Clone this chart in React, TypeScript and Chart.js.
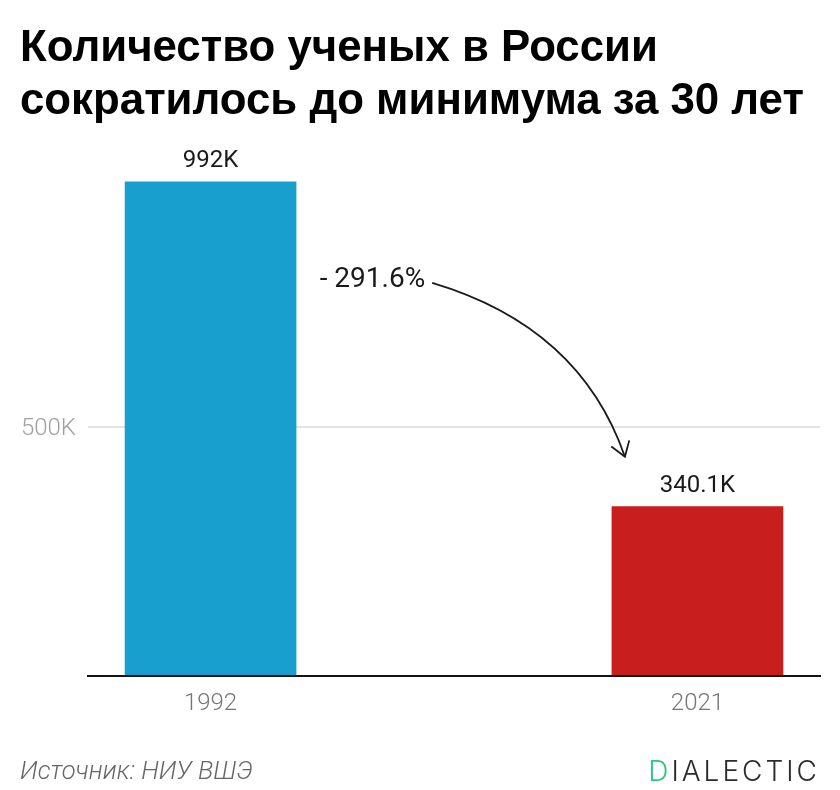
import { useEffect, useRef } from 'react';
import { Chart } from 'chart.js/auto';

const years = [1992, 2021];
const values = [992, 340.1];
const valueLabels = ['992K', '340.1K'];
const barColors = ['#189fcd', '#c81e1e'];
const xRange = [1984.7, 2028.3];
const yTicks = [0, 500];
const yMax = 1100;

// arrow from the "- 291.6%" label down to the 2021 bar, in data units
const arrowX = [2005.2, 2014.0, 2016.68];
const arrowY = [789, 701, 440];
const changeLabel = '- 291.6%';

const font = 'Roboto, sans-serif';

const overlayPlugin = {
  id: 'overlay',
  afterDraw(chart: Chart) {
    const { ctx, scales } = chart;
    const meta = chart.getDatasetMeta(0);

    ctx.save();
    ctx.fillStyle = '#1a1a1a';
    ctx.font = `24px ${font}`;
    ctx.textAlign = 'center';
    ctx.textBaseline = 'alphabetic';
    meta.data.forEach((bar, i) => {
      ctx.fillText(valueLabels[i], bar.x, bar.y - 15);
    });

    const px = arrowX.map((v) => scales.x.getPixelForValue(v));
    const py = arrowY.map((v) => scales.y.getPixelForValue(v));

    ctx.textAlign = 'right';
    ctx.font = `28px ${font}`;
    ctx.fillText(changeLabel, px[0] - 7, py[0] + 4);

    ctx.strokeStyle = '#1a1a1a';
    ctx.lineWidth = 1.8;
    ctx.beginPath();
    ctx.moveTo(px[0], py[0]);
    ctx.quadraticCurveTo(px[1], py[1], px[2], py[2]);
    ctx.stroke();

    // arrow head
    const a = Math.atan2(py[2] - py[1], px[2] - px[1]);
    const len = 17;
    ctx.beginPath();
    ctx.moveTo(px[2] + len * Math.cos(a + 2.55), py[2] + len * Math.sin(a + 2.55));
    ctx.lineTo(px[2], py[2]);
    ctx.lineTo(px[2] + len * Math.cos(a - 2.55), py[2] + len * Math.sin(a - 2.55));
    ctx.stroke();
    ctx.restore();
  },
};

export default function App() {
  const canvasRef = useRef<HTMLCanvasElement>(null);

  useEffect(() => {
    if (!canvasRef.current) return;
    const chart = new Chart(canvasRef.current, {
      type: 'bar',
      data: {
        datasets: [
          {
            data: years.map((y, i) => ({ x: y, y: values[i] })),
            backgroundColor: barColors,
            barThickness: 171,
          },
        ],
      },
      options: {
        animation: false,
        responsive: false,
        layout: { padding: { top: 128, right: 20, left: 0, bottom: 0 } },
        plugins: {
          legend: { display: false },
          tooltip: { enabled: false },
        },
        scales: {
          x: {
            type: 'linear',
            offset: false,
            min: xRange[0],
            max: xRange[1],
            afterBuildTicks: (axis) => {
              axis.ticks = years.map((value) => ({ value }));
            },
            afterFit: (axis) => {
              axis.height = 114;
            },
            grid: { display: false },
            border: { color: '#151515', width: 2, z: 1 },
            ticks: {
              color: '#757575',
              padding: 6,
              maxRotation: 0,
              font: { family: font, size: 24, weight: 300 },
              callback: (v) => String(v),
            },
          },
          y: {
            min: 0,
            max: yMax,
            afterBuildTicks: (axis) => {
              axis.ticks = yTicks.map((value) => ({ value }));
            },
            afterFit: (axis) => {
              axis.width = 88;
            },
            grid: {
              color: (c) => (c.tick.value === 0 ? 'rgba(0,0,0,0)' : '#e3e3e3'),
              lineWidth: 2,
              drawTicks: false,
            },
            border: { display: false },
            ticks: {
              color: '#a0a0a0',
              padding: 12,
              labelOffset: 2,
              font: { family: font, size: 24, weight: 300 },
              callback: (v) => (v === 0 ? '' : `${v}K`),
            },
          },
        },
      },
      plugins: [overlayPlugin],
    });
    return () => chart.destroy();
  }, []);

  return (
    <div style={{ position: 'absolute', left: 0, top: 0, width: 840, height: 790, background: '#fff', overflow: 'hidden' }}>
      <canvas ref={canvasRef} width={840} height={790} style={{ position: 'absolute', left: 0, top: 0 }} />
      <div
        style={{
          position: 'absolute',
          left: 20,
          top: 19,
          width: 820,
          fontFamily: '"Liberation Sans", Arial, sans-serif',
          fontWeight: 700,
          fontSize: 43.8,
          lineHeight: '53px',
          color: '#000',
          whiteSpace: 'nowrap',
        }}
      >
        Количество ученых в России
        <br />
        сократилось до минимума за 30 лет
      </div>
      <div
        style={{
          position: 'absolute',
          left: 20,
          top: 755,
          fontFamily: font,
          fontStyle: 'italic',
          fontWeight: 300,
          fontSize: 25.6,
          lineHeight: '30px',
          color: '#666',
        }}
      >
        Источник: НИУ ВШЭ
      </div>
      <div
        style={{
          position: 'absolute',
          right: 20,
          top: 754,
          fontFamily: 'Inter, sans-serif',
          fontWeight: 300,
          fontSize: 28,
          lineHeight: '34px',
          letterSpacing: 3,
          color: '#2b2b2b',
        }}
      >
        <span style={{ color: '#2cc77f' }}>D</span>IALECTIC
      </div>
    </div>
  );
}
